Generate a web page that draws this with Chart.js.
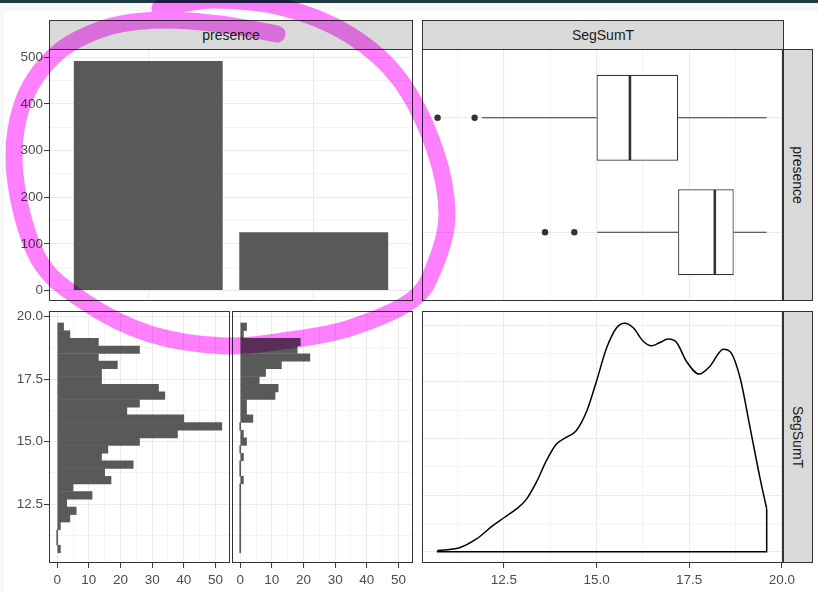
<!DOCTYPE html>
<html>
<head>
<meta charset="utf-8">
<script src="https://cdn.jsdelivr.net/npm/chart.js@4.4.1/dist/chart.umd.min.js"></script>
<style>
  html, body { margin: 0; padding: 0; }
  body { width: 818px; height: 591px; background: #f7f7f7; position: relative; overflow: hidden;
         font-family: "Liberation Sans", Arial, sans-serif; }
  #topbar { position: absolute; left: 0; top: 0; width: 818px; height: 3px; background: #1d3a42; }
  #sheet { position: absolute; left: 4px; top: 11px; width: 814px; height: 580px; background: #fff; }
  .strip { position: absolute; box-sizing: border-box; background: #d9d9d9; border: 1px solid #333;
           color: #1a1a1a; font-size: 14px; display: flex; align-items: center; justify-content: center; }
  .strip.v span { transform: rotate(90deg); white-space: nowrap; }
  canvas { position: absolute; }
  #ink { position: absolute; left: 0; top: 0; mix-blend-mode: multiply; pointer-events: none; }
</style>
</head>
<body>
<div id="topbar"></div>
<div id="sheet"></div>
<div class="strip" style="left:49px;top:20px;width:364px;height:30px">presence</div>
<div class="strip" style="left:422px;top:20px;width:362px;height:30px">SegSumT</div>
<div class="strip v" style="left:783px;top:49px;width:30px;height:252px"><span>presence</span></div>
<div class="strip v" style="left:783px;top:311px;width:30px;height:252px"><span>SegSumT</span></div>

<script>
// ---- data ----
const presenceCounts = [492, 125];

// histogram bins of SegSumT (30 bins), centres from low to high
const binCentres = [10.70, 11.01, 11.31, 11.62, 11.93, 12.23, 12.54, 12.85, 13.16, 13.46,
                    13.77, 14.08, 14.38, 14.69, 15.00, 15.30, 15.61, 15.92, 16.22, 16.53,
                    16.84, 17.14, 17.45, 17.76, 18.07, 18.37, 18.68, 18.99, 19.29, 19.60];
const histFirst = [1, 0, 0, 1, 4, 6, 3, 11, 5, 17, 15, 24, 14, 16, 26, 38, 52, 40, 22, 26,
                   34, 32, 14, 14, 19, 13, 26, 13, 4, 2];
const histSecond = [0, 0, 0, 0, 0, 0, 0, 0, 0, 1, 0, 0, 1, 0, 2, 1, 0, 4, 2, 2,
                    11, 12, 6, 8, 13, 22, 18, 19, 1, 2];

// box plots, one entry per presence level (first = top box)
const boxLow = [11.91, 15.02];
const boxQ1 = [15.00, 17.20];
const boxMedian = [15.90, 18.19];
const boxQ3 = [17.20, 18.70];
const boxHigh = [19.59, 19.59];
const boxOutliers = [[10.71, 11.71], [13.61, 14.40]];

// density of SegSumT
const densityX = [10.71, 11.30, 11.75, 12.20, 12.50, 12.83, 13.10, 13.37, 13.64, 13.91,
                  14.18, 14.45, 14.73, 15.00, 15.27, 15.54, 15.76, 15.99, 16.26, 16.48,
                  16.71, 16.93, 17.16, 17.43, 17.77, 18.06, 18.42, 18.60, 18.87, 19.14,
                  19.41, 19.59];
const densityY = [0.001, 0.0035, 0.011, 0.023, 0.030, 0.0376, 0.046, 0.061, 0.080, 0.095,
                  0.101, 0.107, 0.124, 0.151, 0.180, 0.198, 0.202, 0.198, 0.186, 0.182,
                  0.185, 0.188, 0.185, 0.168, 0.157, 0.164, 0.179, 0.177, 0.154, 0.110,
                  0.065, 0.038];

// tick values
const countTicks = [0, 100, 200, 300, 400, 500];
const countMinor = [50, 150, 250, 350, 450];
const segTicks = [12.5, 15, 17.5, 20];
const segMinor = [11.25, 13.75, 16.25, 18.75];
const histTicks = [0, 10, 20, 30, 40, 50];
const histMinor = [5, 15, 25, 35, 45];
const densityTicks = [0, 0.05, 0.1, 0.15, 0.2];
const densityMinor = [0.025, 0.075, 0.125, 0.175];

// ---- helpers ----
const FONT = { family: '"Liberation Sans", Arial, sans-serif', size: 13.5 };
const PAD = { top: 14, right: 24, bottom: 14, left: 14 };
const BAR = '#595959';

const panelBorder = {
  id: 'panelBorder',
  afterDraw(chart) {
    const { ctx, chartArea: a } = chart;
    ctx.save();
    ctx.strokeStyle = '#333333';
    ctx.lineWidth = 1;
    ctx.strokeRect(a.left + 0.5, a.top + 0.5, a.width - 1, a.height - 1);
    ctx.restore();
  }
};

function axis(o) {
  const all = o.majors.concat(o.minors || []).sort((a, b) => a - b);
  const isMajor = v => o.majors.some(m => Math.abs(m - v) < 1e-9);
  return {
    type: 'linear', min: o.min, max: o.max, offset: false,
    afterBuildTicks: s => { s.ticks = all.map(v => ({ value: v })); },
    afterFit: s => { if (s.isHorizontal()) s.height = o.size; else s.width = o.size; },
    border: { display: false },
    grid: {
      offset: false,
      color: '#ebebeb',
      lineWidth: c => (c.tick && isMajor(c.tick.value)) ? 1.1 : 0.55,
      drawTicks: o.labels,
      tickLength: 5,
      tickWidth: 1,
      tickColor: c => (c.tick && isMajor(c.tick.value)) ? '#333333' : 'rgba(0,0,0,0)'
    },
    ticks: {
      display: o.labels, autoSkip: false, maxRotation: 0, padding: o.pad || 1,
      color: '#4d4d4d', font: FONT,
      callback: v => isMajor(v) ? (o.fmt ? o.fmt(v) : String(v)) : ''
    }
  };
}

function makePanel(rect, yAxisW, xAxisH, config) {
  const pl = yAxisW ? 0 : PAD.left;
  const pb = xAxisH ? 0 : PAD.bottom;
  const w = pl + yAxisW + (rect.r - rect.l) + PAD.right;
  const h = PAD.top + (rect.b - rect.t) + xAxisH + pb;
  const canvas = document.createElement('canvas');
  canvas.width = w; canvas.height = h;
  canvas.style.left = (rect.l - yAxisW - pl) + 'px';
  canvas.style.top = (rect.t - PAD.top) + 'px';
  canvas.style.width = w + 'px'; canvas.style.height = h + 'px';
  document.body.appendChild(canvas);
  config.options = Object.assign({
    responsive: false, animation: false, devicePixelRatio: 1,
    layout: { padding: { top: PAD.top, right: PAD.right, bottom: pb, left: pl } },
    plugins: { legend: { display: false }, tooltip: { enabled: false } }
  }, config.options);
  config.plugins = [panelBorder];
  return new Chart(canvas, config);
}

const fmt1 = v => v.toFixed(1);

// ---- top left: counts of presence ----
makePanel({ l: 49, t: 49, r: 413, b: 301 }, 49, 0, {
  type: 'bar',
  data: { datasets: [{
    data: presenceCounts.map((c, i) => ({ x: i + 1, y: c })),
    backgroundColor: BAR, barPercentage: 0.9, categoryPercentage: 1
  }] },
  options: { scales: {
    x: axis({ min: 0.4, max: 2.6, majors: [1, 2], labels: false, size: 0 }),
    y: axis({ min: -22.5, max: 517.5, majors: countTicks, minors: countMinor, labels: true, size: 49 })
  } }
});

// ---- top right: box plots ----
const nLev = boxQ1.length;
const levY = i => nLev - i;
// higher order is drawn first, so the white boxes sit under the median lines
const boxSets = [{
  type: 'bar', indexAxis: 'y', order: 5,
  data: boxQ1.map((q, i) => ({ x: [q, boxQ3[i]], y: levY(i) })),
  backgroundColor: '#ffffff', borderColor: '#333333', borderWidth: 1.2, borderSkipped: false,
  barPercentage: 0.75, categoryPercentage: 1
}];
const seg = (pts, w, idx) => ({ type: 'line', indexAxis: idx, order: 1, data: pts,
                                borderColor: '#333333', borderWidth: w, pointRadius: 0,
                                tension: 0, fill: false });
boxQ1.forEach((q, i) => {
  const y = levY(i);
  boxSets.push(seg([{ x: boxLow[i], y }, { x: q, y }], 1.2, 'x'));
  boxSets.push(seg([{ x: boxQ3[i], y }, { x: boxHigh[i], y }], 1.2, 'x'));
  boxSets.push(seg([{ x: boxMedian[i], y: y - 0.37 }, { x: boxMedian[i], y: y + 0.37 }], 2.6, 'y'));
});
boxSets.push({
  type: 'scatter', order: 0,
  data: boxOutliers.flatMap((arr, i) => arr.map(v => ({ x: v, y: levY(i) }))),
  backgroundColor: '#333333', borderWidth: 0, pointRadius: 3.2
});
makePanel({ l: 422, t: 49, r: 783, b: 301 }, 0, 0, {
  type: 'bar',
  data: { datasets: boxSets },
  options: { scales: {
    x: axis({ min: 10.29, max: 20.03, majors: segTicks, minors: segMinor, labels: false, size: 0 }),
    y: axis({ min: 0.4, max: 2.6, majors: [1, 2], labels: false, size: 0 })
  } }
});

// ---- bottom left: histograms ----
function histPanel(rect, counts, withY) {
  return makePanel(rect, withY ? 49 : 0, 28, {
    type: 'bar',
    data: { datasets: [{
      indexAxis: 'y',
      data: binCentres.map((c, i) => ({ x: counts[i], y: c })),
      backgroundColor: BAR, barPercentage: 1, categoryPercentage: 1, minBarLength: 1
    }] },
    options: { indexAxis: 'y', scales: {
      x: axis({ min: -2.6, max: 54.6, majors: histTicks, minors: histMinor, labels: true, size: 28, pad: 4 }),
      y: axis({ min: 10.14, max: 20.23, majors: segTicks, minors: segMinor, labels: withY,
                size: withY ? 49 : 0, fmt: fmt1 })
    } }
  });
}
histPanel({ l: 49, t: 311, r: 230, b: 563 }, histFirst, true);
histPanel({ l: 232, t: 311, r: 413, b: 563 }, histSecond, false);

// ---- bottom right: density ----
const last = densityX.length - 1;
makePanel({ l: 422, t: 311, r: 783, b: 563 }, 0, 28, {
  type: 'line',
  data: { datasets: [
    { data: densityX.map((x, i) => ({ x, y: densityY[i] })), borderColor: '#000', borderWidth: 1.5,
      pointRadius: 0, cubicInterpolationMode: 'monotone', fill: false },
    { data: [{ x: densityX[last], y: densityY[last] }, { x: densityX[last], y: 0 },
             { x: densityX[0], y: 0 }, { x: densityX[0], y: densityY[0] }],
      borderColor: '#000', borderWidth: 1.5, pointRadius: 0, tension: 0, fill: false }
  ] },
  options: { scales: {
    x: axis({ min: 10.29, max: 20.03, majors: segTicks, minors: segMinor, labels: true, size: 28, pad: 4, fmt: fmt1 }),
    y: axis({ min: -0.01, max: 0.2128, majors: densityTicks, minors: densityMinor, labels: false, size: 0 })
  } }
});

// ---- hand-drawn highlighter loop over the picture ----
const inkPoints = [[160, 8], [215, 0], [285, 8], [350, 35], [400, 80], [435, 150], [447, 215],
                   [435, 265], [412, 300], [350, 328], [290, 340], [225, 346], [150, 334],
                   [85, 302], [38, 258], [15, 175], [22, 105], [55, 55], [105, 28], [160, 20],
                   [220, 24], [277, 34]];
function smoothPath(p) {
  let d = 'M' + p[0];
  for (let i = 0; i < p.length - 1; i++) {
    const p0 = p[i - 1] || p[i], p1 = p[i], p2 = p[i + 1], p3 = p[i + 2] || p2;
    const c1 = [p1[0] + (p2[0] - p0[0]) / 6, p1[1] + (p2[1] - p0[1]) / 6];
    const c2 = [p2[0] - (p3[0] - p1[0]) / 6, p2[1] - (p3[1] - p1[1]) / 6];
    d += ' C' + c1 + ' ' + c2 + ' ' + p2;
  }
  return d;
}
const svgNS = 'http://www.w3.org/2000/svg';
const svg = document.createElementNS(svgNS, 'svg');
svg.setAttribute('id', 'ink');
svg.setAttribute('width', 818);
svg.setAttribute('height', 591);
const path = document.createElementNS(svgNS, 'path');
path.setAttribute('d', smoothPath(inkPoints));
path.setAttribute('fill', 'none');
path.setAttribute('stroke', '#ff80ff');
path.setAttribute('stroke-width', 17);
path.setAttribute('stroke-linecap', 'round');
path.setAttribute('stroke-linejoin', 'round');
svg.appendChild(path);
document.body.appendChild(svg);
</script>
</body>
</html>
